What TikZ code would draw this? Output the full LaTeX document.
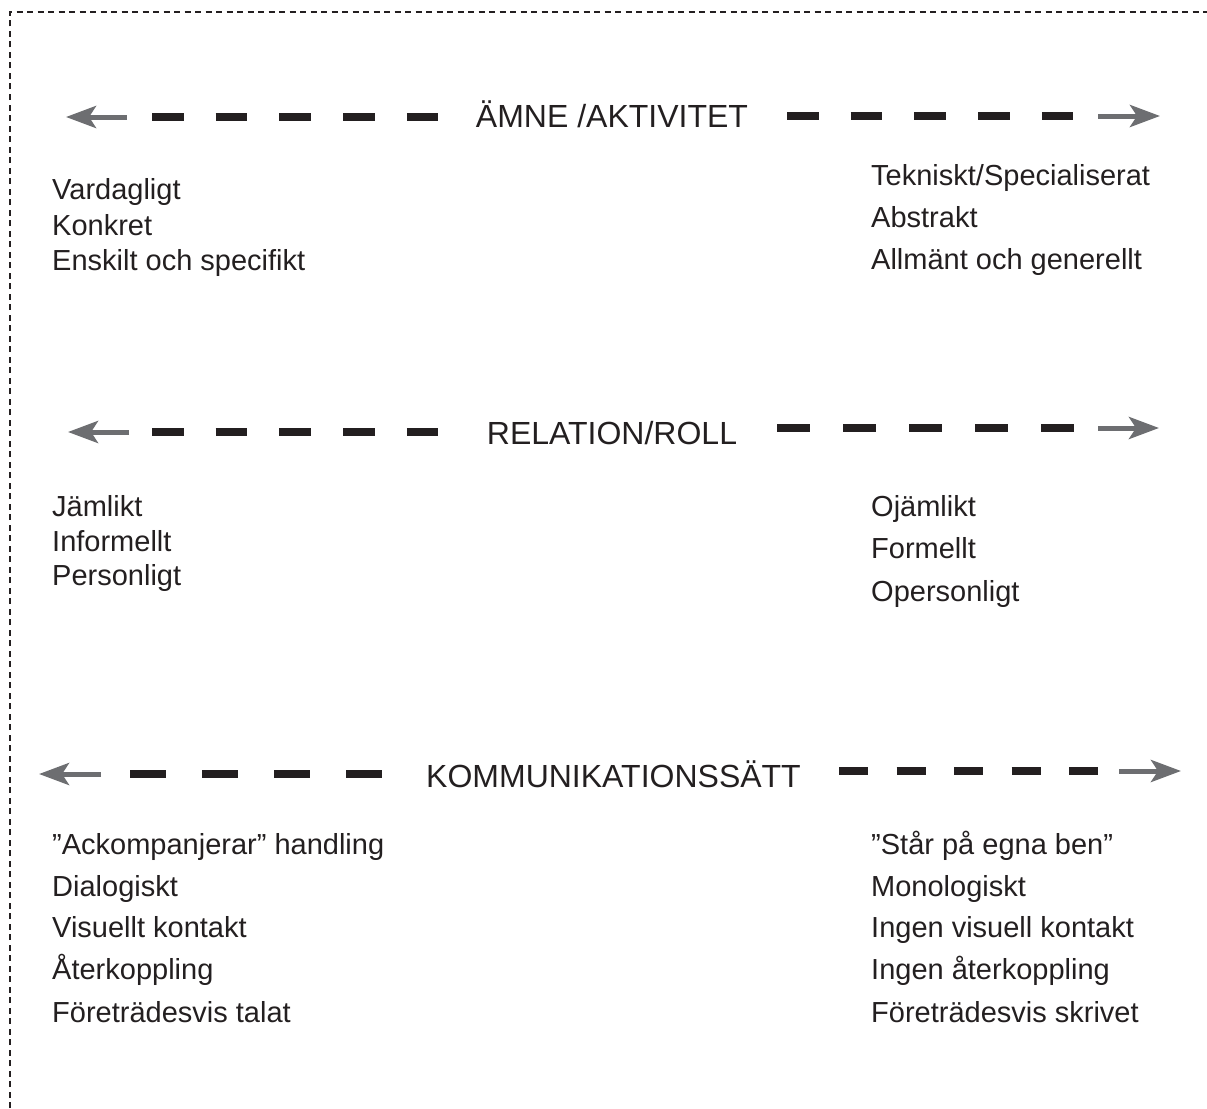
\documentclass[tikz,border=0pt]{standalone}
\usepackage{fontspec}
\setmainfont{Liberation Sans}
\usetikzlibrary{arrows.meta}
\definecolor{ink}{HTML}{231F20}
\definecolor{pilgray}{HTML}{6D6E71}
\tikzset{
    frame/.style={ink, line width=1.8pt, dash pattern=on 6pt off 4.5pt},
    bar/.style={ink, line width=8pt},
    pil/.style={pilgray, line width=5pt, -{Stealth[length=30pt, width=22pt, inset=7pt]}},
    head/.style={ink, anchor=base, inner sep=0pt, font=\fontsize{32}{38}\selectfont},
    item/.style={ink, anchor=base west, inner sep=0pt, font=\fontsize{29}{35}\selectfont},
}

\begin{document}
\begin{tikzpicture}[x=1pt, y=-1pt]
    \useasboundingbox (0, 0) rectangle (1207, 1108);
    \draw[frame](10, 1108)--(10, 12)--(1207, 12);

    % amne / aktivitet
    \node[head] (amne) at (612, 127) {ÄMNE /AKTIVITET};
    \path (66, 117) coordinate (a1tip) (127, 117) coordinate (a1end)
          (152, 117) coordinate (a1d) (438.5, 117) coordinate (a1e)
          (787, 116) coordinate (a2d) (1074, 116) coordinate (a2e)
          (1098, 116) coordinate (a2end) (1160, 116) coordinate (a2tip);
    \draw[pil](a1end)--(a1tip);
    \draw[bar, dash pattern=on 31.5pt off 32.2pt](a1d)--(a1e);
    \draw[bar, dash pattern=on 31.5pt off 32.2pt](a2d)--(a2e);
    \draw[pil](a2end)--(a2tip);
    \foreach \y/\t [count=\i] in {199/Vardagligt, 235/Konkret, 270/Enskilt och specifikt}
        \node[item] (v\i) at (52, \y) {\t};
    \foreach \y/\t [count=\i] in {185/{Tekniskt/Specialiserat}, 227/Abstrakt, 269/Allmänt och generellt}
        \node[item] (h\i) at (871, \y) {\t};

    % relation / roll
    \node[head] (roll) at (612, 444) {RELATION/ROLL};
    \path (68, 432) coordinate (b1tip) (129, 432) coordinate (b1end)
          (152, 432) coordinate (b1d) (438.5, 432) coordinate (b1e)
          (777, 428) coordinate (b2d) (1074, 428) coordinate (b2e)
          (1098, 428) coordinate (b2end) (1159, 428) coordinate (b2tip);
    \draw[pil](b1end)--(b1tip);
    \draw[bar, dash pattern=on 31.5pt off 32.2pt](b1d)--(b1e);
    \draw[bar, dash pattern=on 33pt off 33pt](b2d)--(b2e);
    \draw[pil](b2end)--(b2tip);
    \foreach \y/\t [count=\i] in {516/Jämlikt, 551/Informellt, 585/Personligt}
        \node[item] (j\i) at (52, \y) {\t};
    \foreach \y/\t [count=\i] in {516/Ojämlikt, 558/Formellt, 601/Opersonligt}
        \node[item] (o\i) at (871, \y) {\t};

    % kommunikationssatt
    \node[head] (komm) at (613.5, 787) {KOMMUNIKATIONSSÄTT};
    \path (39, 774) coordinate (c1tip) (101, 774) coordinate (c1end)
          (130, 774) coordinate (c1d) (382, 774) coordinate (c1e)
          (839, 771) coordinate (c2d) (1098, 771) coordinate (c2e)
          (1119, 771) coordinate (c2end) (1181, 771) coordinate (c2tip);
    \draw[pil](c1end)--(c1tip);
    \draw[bar, dash pattern=on 36pt off 36pt](c1d)--(c1e);
    \draw[bar, dash pattern=on 29pt off 28.5pt](c2d)--(c2e);
    \draw[pil](c2end)--(c2tip);
    \foreach \y/\t [count=\i] in {854/”Ackompanjerar” handling, 896/Dialogiskt,
        937/Visuellt kontakt, 979/Återkoppling, 1022/Företrädesvis talat}
        \node[item] (d\i) at (52, \y) {\t};
    \foreach \y/\t [count=\i] in {854/”Står på egna ben”, 896/Monologiskt,
        937/Ingen visuell kontakt, 979/Ingen återkoppling, 1022/Företrädesvis skrivet}
        \node[item] (m\i) at (871, \y) {\t};
\end{tikzpicture}
\end{document}
